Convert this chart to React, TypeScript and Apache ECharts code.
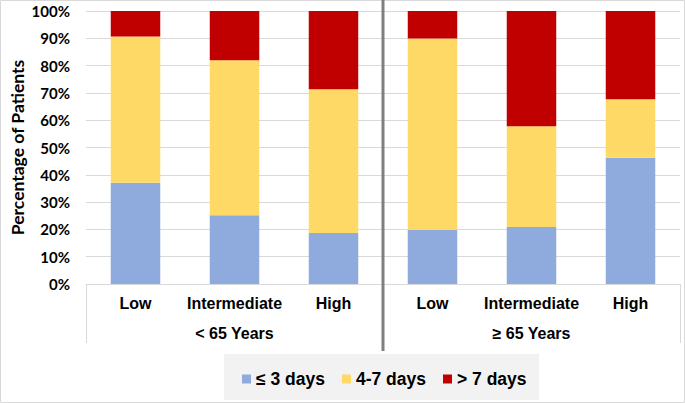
import React, { useEffect, useRef } from "react";
import * as echarts from "echarts";

const categories = ["Low", "Intermediate", "High", "Low", "Intermediate", "High"];
const groups = ["< 65 Years", "≥ 65 Years"];
const seriesNames = ["≤ 3 days", "4-7 days", "> 7 days"];
const le3Days = [37.1, 25.2, 18.7, 19.8, 20.9, 46.2];
const d4to7Days = [53.6, 56.8, 52.6, 70.1, 36.9, 21.5];
const gt7Days = [9.3, 18.0, 28.7, 10.1, 42.2, 32.3];
const yTicks = { min: 0, max: 100, interval: 10 };

const colors = ["#8faadc", "#ffd966", "#c00000"];
const ARIAL = "'Liberation Sans', Arial, sans-serif";
const CALIBRI = "Lato, 'Open Sans', sans-serif";

export default function App() {
  const ref = useRef<HTMLDivElement>(null);
  useEffect(() => {
    document.body.style.margin = "0";
    const chart = echarts.init(ref.current!, null, { renderer: "svg" });
    const values = [le3Days, d4to7Days, gt7Days];
    chart.setOption({
      animation: false,
      backgroundColor: "#ffffff",
      grid: { left: 86, top: 11, width: 594, height: 273, containLabel: false, outerBoundsMode: "none" },
      legend: {
        data: seriesNames,
        left: 237,
        top: 365,
        icon: "rect",
        itemWidth: 9,
        itemHeight: 9,
        itemGap: 17,
        textStyle: { fontSize: 17.5, fontWeight: "bold", fontFamily: ARIAL, color: "#000" },
      },
      xAxis: [
        {
          type: "category",
          data: categories,
          axisLine: { show: true, lineStyle: { color: "#d9d9d9", width: 1 } },
          axisTick: { show: false },
          axisLabel: {
            margin: 11,
            fontSize: 16,
            fontWeight: "bold",
            fontFamily: ARIAL,
            color: "#000",
            interval: 0,
          },
        },
        {
          type: "category",
          data: groups,
          position: "bottom",
          axisLine: { show: false },
          axisTick: { show: true, length: 59, interval: 0, lineStyle: { color: "#d9d9d9", width: 1 } },
          axisLabel: {
            margin: 41,
            fontSize: 16,
            fontWeight: "bold",
            fontFamily: ARIAL,
            color: "#000",
            interval: 0,
          },
        },
      ],
      yAxis: {
        type: "value",
        min: yTicks.min,
        max: yTicks.max,
        interval: yTicks.interval,
        name: "Percentage of Patients",
        nameLocation: "middle",
        nameRotate: 90,
        nameGap: 60,
        nameMoveOverlap: false,
        nameTextStyle: { fontSize: 17.5, fontWeight: "bold", fontFamily: CALIBRI, color: "#000" },
        axisLine: { show: false },
        axisTick: { show: false },
        splitLine: { lineStyle: { color: "#d9d9d9", width: 1 } },
        axisLabel: {
          formatter: "{value}%",
          margin: 16,
          fontSize: 15,
          fontWeight: "bold",
          fontFamily: CALIBRI,
          color: "#000",
        },
      },
      series: seriesNames.map((name, i) => ({
        name,
        type: "bar",
        stack: "total",
        barWidth: "50%",
        data: values[i],
        itemStyle: { color: colors[i] },
      })),
    });
    const x2 = chart.convertToPixel({ xAxisIndex: 0 }, 2) as number;
    const x3 = chart.convertToPixel({ xAxisIndex: 0 }, 3) as number;
    const sepX = (x2 + x3) / 2;
    chart.setOption({
      graphic: [
        {
          type: "rect",
          z: -10,
          silent: true,
          shape: { x: 224, y: 354, width: 315, height: 46 },
          style: { fill: "#f2f2f2" },
        },
        {
          type: "rect",
          silent: true,
          shape: { x: 0.5, y: 0.5, width: 684, height: 402 },
          style: { fill: "none", stroke: "#d9d9d9", lineWidth: 1 },
        },
        {
          type: "line",
          silent: true,
          z: 100,
          shape: { x1: sepX, y1: 0, x2: sepX, y2: 351 },
          style: { stroke: "#7f7f7f", lineWidth: 3 },
        },
      ],
    });
    return () => chart.dispose();
  }, []);
  return <div ref={ref} style={{ width: 685, height: 403 }} />;
}
